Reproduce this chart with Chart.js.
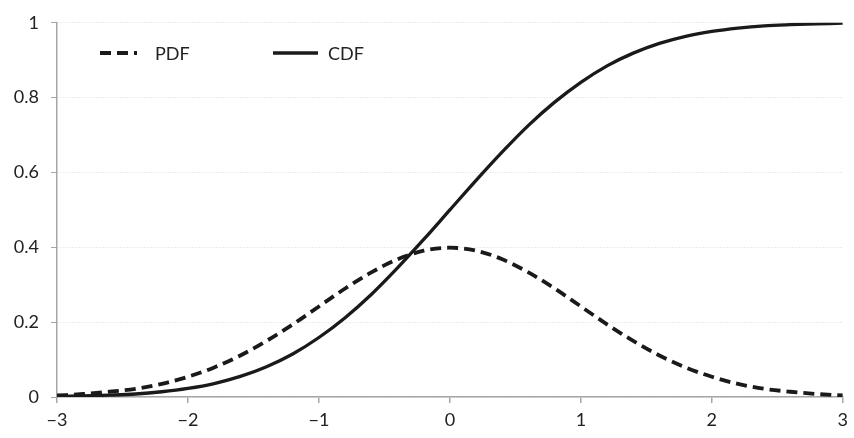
<!DOCTYPE html>
<html>
<head>
<meta charset="utf-8">
<script src="https://cdn.jsdelivr.net/npm/chart.js@4"></script>
<style>
  html, body { margin: 0; padding: 0; background: #fff; }
  #wrap { width: 854px; height: 438px; }
</style>
</head>
<body>
<div id="wrap"><canvas id="c" width="854" height="438"></canvas></div>
<script>
// values
const xs = [-3, -2.8, -2.6, -2.4, -2.2, -2, -1.8, -1.6, -1.4, -1.2, -1, -0.8, -0.6, -0.4, -0.2, 0,
            0.2, 0.4, 0.6, 0.8, 1, 1.2, 1.4, 1.6, 1.8, 2, 2.2, 2.4, 2.6, 2.8, 3];
const pdf = [0.004, 0.008, 0.014, 0.022, 0.035, 0.054, 0.079, 0.111, 0.150, 0.194, 0.242, 0.290, 0.333, 0.368, 0.391, 0.399,
             0.391, 0.368, 0.333, 0.290, 0.242, 0.194, 0.150, 0.111, 0.079, 0.054, 0.035, 0.022, 0.014, 0.008, 0.004];
const cdf = [0.001, 0.003, 0.005, 0.008, 0.014, 0.023, 0.036, 0.055, 0.081, 0.115, 0.159, 0.212, 0.274, 0.345, 0.421, 0.500,
             0.579, 0.655, 0.726, 0.788, 0.841, 0.885, 0.919, 0.945, 0.964, 0.977, 0.986, 0.992, 0.995, 0.997, 0.999];
const xTicks = [-3, -2, -1, 0, 1, 2, 3];
const yTicks = [0, 0.2, 0.4, 0.6, 0.8, 1];

const FONT = { family: 'Lato, "Open Sans", sans-serif', size: 18 };
const pts = ys => xs.map((x, i) => ({ x, y: ys[i] }));

// legend drawn inside the plot, top-left
const innerLegend = {
  id: 'innerLegend',
  afterDraw(chart) {
    const ctx = chart.ctx;
    const y = 53;
    const items = [
      { ds: chart.data.datasets[0], x0: 100, x1: 137, tx: 155 },
      { ds: chart.data.datasets[1], x0: 273, x1: 318, tx: 328 },
    ];
    ctx.save();
    items.forEach(it => {
      ctx.beginPath();
      ctx.strokeStyle = it.ds.borderColor;
      ctx.lineWidth = it.ds.borderWidth;
      ctx.setLineDash(it.ds.borderDash || []);
      ctx.moveTo(it.x0, y);
      ctx.lineTo(it.x1, y);
      ctx.stroke();
      ctx.setLineDash([]);
      ctx.fillStyle = '#222';
      ctx.font = FONT.size + 'px ' + FONT.family;
      ctx.textBaseline = 'middle';
      ctx.fillText(it.ds.label, it.tx, y + 1);
    });
    ctx.restore();
  }
};

new Chart(document.getElementById('c').getContext('2d'), {
  type: 'line',
  data: {
    datasets: [
      { label: 'PDF', data: pts(pdf), borderColor: '#1a1a1a', borderWidth: 3.8, borderDash: [11, 6], pointRadius: 0, tension: 0.4, cubicInterpolationMode: 'monotone' },
      { label: 'CDF', data: pts(cdf), borderColor: '#1a1a1a', borderWidth: 3.3, pointRadius: 0, tension: 0.4, cubicInterpolationMode: 'monotone' },
    ],
  },
  options: {
    responsive: false,
    animation: false,
    layout: { padding: { top: 17, right: 7, left: 0, bottom: 0 } },
    plugins: { legend: { display: false }, tooltip: { enabled: false } },
    scales: {
      x: {
        type: 'linear', min: -3, max: 3,
        afterBuildTicks: s => { s.ticks = xTicks.map(v => ({ value: v })); },
        afterFit: s => { s.height = 41; },
        grid: { drawOnChartArea: false, drawTicks: true, tickLength: 6, tickColor: '#a6a6a6', lineWidth: 1.5 },
        border: { color: '#a6a6a6', width: 1.5 },
        ticks: { font: FONT, color: '#222', padding: 6, maxRotation: 0, callback: v => String(v).replace('-', '\u2212') },
      },
      y: {
        min: 0, max: 1,
        afterBuildTicks: s => { s.ticks = yTicks.map(v => ({ value: v })); },
        afterFit: s => { s.width = 57; },
        grid: { color: '#d9d9d9', lineWidth: 1, drawTicks: true, tickLength: 6, tickColor: '#a6a6a6', tickBorderDash: [] },
        border: { color: '#a6a6a6', width: 1.5, dash: [1, 2] },
        ticks: { font: FONT, color: '#222', padding: 12, callback: v => String(v) },
      },
    },
  },
  plugins: [innerLegend],
});
</script>
</body>
</html>
